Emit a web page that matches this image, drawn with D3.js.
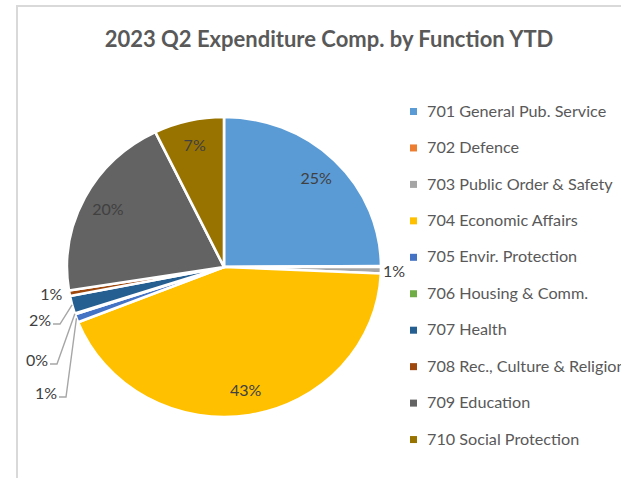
<!DOCTYPE html>
<html>
<head>
<meta charset="utf-8">
<script src="https://cdn.jsdelivr.net/npm/d3@7"></script>
<style>
  html, body { margin: 0; padding: 0; background: #fff; }
  svg { display: block; font-family: Lato, "Open Sans", sans-serif; }
</style>
</head>
<body>
<svg id="chart" width="621" height="478"></svg>
<script>
// chart data
const categories = [
  '701 General Pub. Service', '702 Defence', '703 Public Order & Safety',
  '704 Economic Affairs', '705 Envir. Protection', '706 Housing & Comm.',
  '707 Health', '708 Rec., Culture & Religion', '709 Education',
  '710 Social Protection'
]
const shares = [24.9, 0.1, 0.7, 43.3, 0.9, 0.1, 1.9, 0.6, 20.3, 7.2]
const colors = ['#5b9bd5', '#ed7d31', '#a5a5a5', '#ffc000', '#4472c4',
                '#70ad47', '#255e91', '#9e480e', '#636363', '#997300']
const title = '2023 Q2 Expenditure Comp. by Function YTD'

// how each data label is placed (index -> mode)
const labelMode = ['inside', 'none', 'outside', 'inside', 'leader',
                   'leader', 'leader', 'near', 'inside', 'inside']
// leader label anchor (text end), relative to pie centre
const leaderAt = { 4: [-167, 126], 5: [-176, 93], 6: [-173, 53] }

const svg = d3.select('#chart')
const cx = 224, cy = 267
const ry = 150, rx = 157
const sx = rx / ry

// frame
svg.append('rect')
    .attr('x', 17).attr('y', 6)
    .attr('width', 700).attr('height', 600)
    .attr('fill', 'none')
    .attr('stroke', '#d9d9d9')
    .attr('stroke-width', 2)

svg.append('text')
    .attr('x', 329).attr('y', 47)
    .attr('text-anchor', 'middle')
    .attr('font-size', 22)
    .attr('font-weight', 'bold')
    .attr('fill', '#595959')
    .text(title)

const pie = d3.pie().sort(null).value(d => d)
const arcs = pie(shares)
const arc = d3.arc().innerRadius(0).outerRadius(ry)
const labelArc = d3.arc().innerRadius(125).outerRadius(125)
const edgeArc = d3.arc().innerRadius(ry).outerRadius(ry)

const g = svg.append('g')
    .attr('transform', `translate(${cx},${cy})`)

g.append('g')
    .attr('transform', `scale(${sx},1)`)
    .selectAll('path')
    .data(arcs)
    .enter()
    .append('path')
    .attr('d', arc)
    .attr('fill', (d, i) => colors[i])
    .attr('stroke', '#fff')
    .attr('stroke-width', 2.5)
    .attr('stroke-linejoin', 'round')

const fmt = v => Math.round(v) + '%'
const edgePt = d => {
  const c = edgeArc.centroid(d)
  return [c[0] * sx, c[1]]
}

const labels = g.append('g')
    .attr('font-size', 16)
    .attr('fill', '#404040')

arcs.forEach((d, i) => {
  const mode = labelMode[i]
  if (mode === 'none') return
  if (mode === 'inside') {
    const c = labelArc.centroid(d)
    labels.append('text')
        .attr('x', c[0] * sx).attr('y', c[1])
        .attr('dy', '0.35em')
        .attr('text-anchor', 'middle')
        .text(fmt(d.data))
  } else if (mode === 'outside' || mode === 'near') {
    const p = edgePt(d)
    const right = p[0] > 0
    labels.append('text')
        .attr('x', p[0] + (right ? 2 : -7)).attr('y', p[1] + 1)
        .attr('dy', '0.35em')
        .attr('text-anchor', right ? 'start' : 'end')
        .text(fmt(d.data))
  } else if (mode === 'leader') {
    const [lx, ly] = leaderAt[i]
    const p = edgePt(d)
    labels.append('text')
        .attr('x', lx).attr('y', ly)
        .attr('dy', '0.35em')
        .attr('text-anchor', 'end')
        .text(fmt(d.data))
    g.append('path')
        .attr('d', d3.line()([[lx + 2, ly + 4], [lx + 9, ly + 4], p]))
        .attr('fill', 'none')
        .attr('stroke', '#a6a6a6')
        .attr('stroke-width', 1.4)
  }
})

// legend
const legend = svg.append('g')
    .attr('transform', 'translate(410,111)')
    .attr('font-size', 16.2)
    .attr('fill', '#595959')

const rows = legend.selectAll('g')
    .data(categories)
    .enter()
    .append('g')
    .attr('transform', (d, i) => `translate(0,${i * 36.45})`)

rows.append('rect')
    .attr('x', 0).attr('y', -3)
    .attr('width', 7).attr('height', 7)
    .attr('fill', (d, i) => colors[i])

rows.append('text')
    .attr('x', 17)
    .attr('dy', '0.35em')
    .text(d => d)
</script>
</body>
</html>
